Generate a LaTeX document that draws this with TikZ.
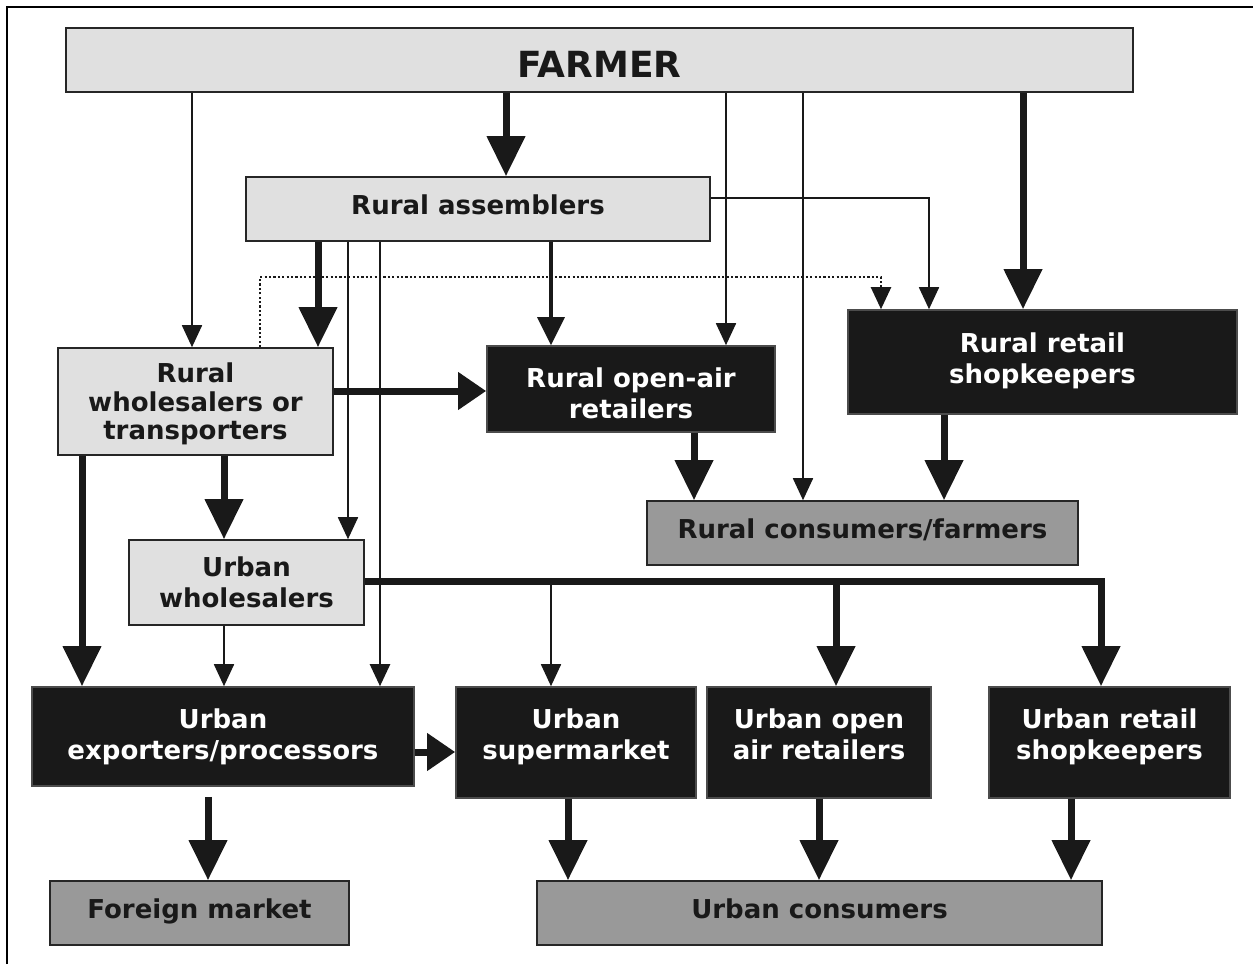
\documentclass[tikz,border=0pt]{standalone}
\usepackage{fontspec}
\setmainfont{DejaVu Sans}
\usetikzlibrary{arrows.meta}
\tikzset{
lightbox/.style={draw=black!85, line width=1.6pt, fill=black!12, rectangle, inner sep=0pt, align=center, font=\bfseries\fontsize{26}{31}\selectfont, text=black!90},
darkbox/.style={lightbox, fill=black!90, draw=black!70, text=white},
greybox/.style={lightbox, fill=black!40},
textline/.style={text height=#1, text depth=0pt},
thinarrow/.style={line width=1.8pt, draw=black!90, -{Triangle[length=22pt,width=20pt]}},
midarrow/.style={line width=3.5pt, draw=black!90, -{Triangle[length=28pt,width=27pt]}},
thickarrow/.style={line width=7pt, draw=black!90, -{Triangle[length=40pt,width=37pt]}},
sidearrow/.style={line width=7pt, draw=black!90, -{Triangle[length=28pt,width=36pt]}},
}

\begin{document}
\begin{tikzpicture}[x=1pt, y=-1pt]
    \useasboundingbox (0,0) rectangle (1253,964);
    \draw[line width=1.6pt] (7,964) -- (7,7) -- (1253,7);

    %rural level
    \node[lightbox, textline=34pt, minimum width=1067pt, minimum height=64pt, font=\bfseries\fontsize{36}{40}\selectfont] (farmer) at (599.5,60) {FARMER};
    \node[lightbox, textline=11pt, minimum width=464pt, minimum height=64pt] (rasm) at (478,209) {Rural assemblers};
    \node[lightbox, textline=76pt, minimum width=275pt, minimum height=107pt, font=\bfseries\fontsize{26}{28.5}\selectfont] (rwhole) at (195.5,401.5) {Rural\\wholesalers or\\transporters};
    \node[darkbox, textline=58pt, minimum width=288pt, minimum height=86pt] (ropen) at (631,389) {Rural open-air\\retailers};
    \node[darkbox, textline=42pt, minimum width=389pt, minimum height=104pt] (rretail) at (1042.5,362) {Rural retail\\shopkeepers};
    \node[greybox, textline=10pt, minimum width=431pt, minimum height=64pt] (rcons) at (862.5,533) {Rural consumers/farmers};

    %urban level
    \node[lightbox, textline=50pt, minimum width=235pt, minimum height=85pt] (uwhole) at (246.5,582.5) {Urban\\wholesalers};
    \node[darkbox, textline=46pt, minimum width=382pt, minimum height=99pt] (uexp) at (223,736.5) {Urban\\exporters/processors};
    \node[darkbox, textline=34pt, minimum width=240pt, minimum height=111pt] (usuper) at (576,742.5) {Urban\\supermarket};
    \node[darkbox, textline=34pt, minimum width=224pt, minimum height=111pt] (uopen) at (819,742.5) {Urban open\\air retailers};
    \node[darkbox, textline=34pt, minimum width=241pt, minimum height=111pt] (uretail) at (1109.5,742.5) {Urban retail\\shopkeepers};
    \node[greybox, textline=11pt, minimum width=299pt, minimum height=64pt] (foreign) at (199.5,913) {Foreign market};
    \node[greybox, textline=11pt, minimum width=565pt, minimum height=64pt] (ucons) at (819.5,913) {Urban consumers};

    \coordinate (ubus) at (0,581); % level of the urban wholesalers line

    %from farmer
    \draw[thinarrow]  (farmer.south -| 192,0) -- (rwhole.north -| 192,0);
    \draw[thickarrow] (farmer.south -| 506,0) -- (rasm.north -| 506,0);
    \draw[thinarrow]  (farmer.south -| 726,0) -- (ropen.north -| 726,0);
    \draw[thinarrow]  (farmer.south -| 803,0) -- (rcons.north -| 803,0);
    \draw[thickarrow] (farmer.south -| 1023,0) -- (rretail.north -| 1023,0);

    %from rural assemblers
    \draw[thickarrow] (rasm.south -| 318,0) -- (rwhole.north -| 318,0);
    \draw[thinarrow]  (rasm.south -| 348,0) -- (uwhole.north -| 348,0);
    \draw[thinarrow, line width=2.4pt] (rasm.south -| 380,0) -- (uexp.north -| 380,0);
    \draw[midarrow]   (rasm.south -| 551,0) -- (ropen.north -| 551,0);
    \draw[thinarrow]  (rasm.east |- 0,198) -| (rretail.north -| 929,0);

    %from rural wholesalers
    \draw[thinarrow, line width=2.2pt, dash pattern=on 2.2pt off 2.2pt] (rwhole.north -| 260,0) |- (881,277) -- (rretail.north -| 881,0);
    \draw[sidearrow]  (rwhole.east |- 0,391) -- (ropen.west |- 0,391);
    \draw[thickarrow] (rwhole.south -| 82,0) -- (uexp.north -| 82,0);
    \draw[thickarrow] (rwhole.south -| 224,0) -- (uwhole.north -| 224,0);

    %to rural consumers
    \draw[thickarrow] (ropen.south -| 694,0) -- (rcons.north -| 694,0);
    \draw[thickarrow] (rretail.south -| 944,0) -- (rcons.north -| 944,0);

    %from urban wholesalers
    \draw[thinarrow]  (uwhole.south -| 224,0) -- (uexp.north -| 224,0);
    \draw[thickarrow] (uwhole.east |- ubus) -| (uretail.north -| 1101,0);
    \draw[thinarrow]  (ubus -| 551,0) -- (usuper.north -| 551,0);
    \draw[thickarrow] (ubus -| 836,0) -- (uopen.north -| 836,0);

    %urban level
    \draw[sidearrow]  (uexp.east |- 0,752) -- (usuper.west |- 0,752);
    \draw[thickarrow] ([yshift=-10pt]uexp.south -| 208,0) -- (foreign.north -| 208,0);
    \draw[thickarrow] (usuper.south -| 568,0) -- (ucons.north -| 568,0);
    \draw[thickarrow] (uopen.south -| 819,0) -- (ucons.north -| 819,0);
    \draw[thickarrow] (uretail.south -| 1071,0) -- (ucons.north -| 1071,0);

\end{tikzpicture}
\end{document}
